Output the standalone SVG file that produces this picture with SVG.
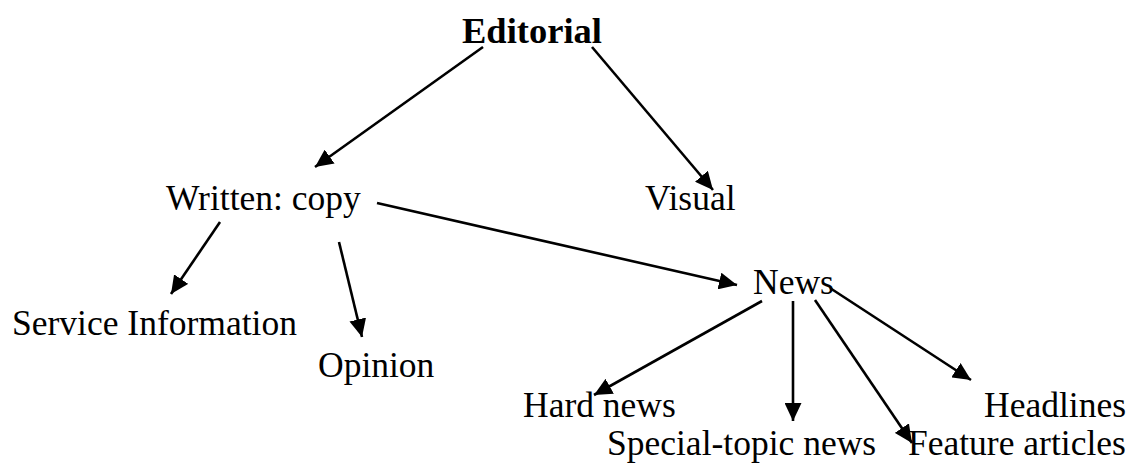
<svg xmlns="http://www.w3.org/2000/svg" width="1136" height="464" viewBox="0 0 1136 464">
<style>
text{font-family:"Liberation Serif","Times New Roman",serif;font-size:35.5px;fill:#000}
.b{font-weight:bold;font-size:36.5px}
.c line{stroke:#000;stroke-width:2.6;marker-end:url(#ah)}
</style>
<defs>
<marker id="ah" viewBox="0 0 18 17" refX="18" refY="8.5" markerUnits="userSpaceOnUse" markerWidth="18" markerHeight="17" orient="auto">
<path d="M0,0 L18,8.5 L0,17 z" fill="#000"/>
</marker>
</defs>
<rect width="1136" height="464" fill="#fff"/>
<g class="c" id="connectors">
<line x1="483" y1="47" x2="315" y2="167"/>
<line x1="592" y1="47" x2="713" y2="190"/>
<line x1="377" y1="203" x2="737" y2="285"/>
<line x1="220" y1="222" x2="171" y2="294"/>
<line x1="339" y1="242" x2="362" y2="337"/>
<line x1="762" y1="301" x2="594" y2="395"/>
<line x1="793" y1="301" x2="793" y2="421"/>
<line x1="815" y1="300" x2="912" y2="443"/>
<line x1="830" y1="288" x2="971" y2="380"/>
</g>
<g id="editorial"><text class="b" x="462" y="43">Editorial</text></g>
<g id="written"><text x="166" y="210">Written: copy</text></g>
<g id="visual"><text x="645" y="210">Visual</text></g>
<g id="service"><text x="12" y="335">Service Information</text></g>
<g id="opinion"><text x="318" y="377">Opinion</text></g>
<g id="news"><text x="753" y="294">News</text></g>
<g id="hardnews"><text x="523" y="417">Hard news</text></g>
<g id="special"><text x="607" y="455">Special-topic news</text></g>
<g id="headlines"><text x="984" y="417">Headlines</text></g>
<g id="feature"><text x="908" y="455">Feature articles</text></g>
</svg>
